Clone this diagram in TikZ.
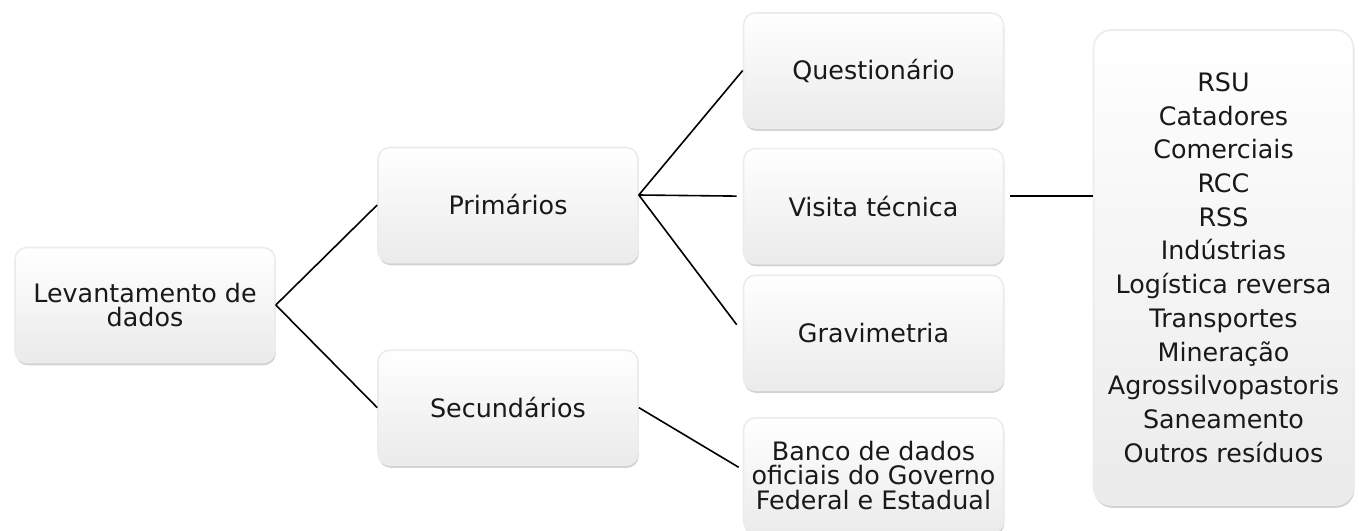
\documentclass[tikz,border=0pt]{standalone}
\usepackage{fontspec}
\setmainfont{DejaVu Sans}
\usetikzlibrary{positioning}
\usetikzlibrary{shadows}

\begin{document}
\begin{tikzpicture} [x=0.5pt, y=-0.5pt, line width=0.8pt,
        caixa/.style = {rounded corners=6pt, draw=gray!15, top color=white, bottom color=gray!16,
            drop shadow={shadow xshift=0.4pt, shadow yshift=-1.4pt, opacity=0.35, fill=gray},
            minimum width=130pt, minimum height=57.5pt, inner sep=2pt, align=center,
            text=black!90, font=\fontsize{12.7}{12.3}\selectfont}]
        \useasboundingbox (0,0) rectangle (1359,530);

        %Caixas
        \node[caixa] (lev) at (145,305) {Levantamento de\\dados};
        \node[caixa] (prim) at (508,205) {Primários};
        \node[caixa] (sec) [below = 43pt of prim] {Secundários};

        \node[caixa] (quest) at (873.5,70.5) {Questionário};
        \node[caixa] (vis) [below = 9.5pt of quest] {Visita técnica};
        \node[caixa] (grav) [below = 5pt of vis] {Gravimetria};
        \node[caixa] (banco) [below = 13pt of grav] {Banco de dados\\oficiais do Governo\\Federal e Estadual};

        \node[caixa, rounded corners=9pt, minimum height=237.5pt, font=\fontsize{12.7}{16.85}\selectfont] (tipos) at (1223.5,267.5)
            {RSU\\Catadores\\Comerciais\\RCC\\RSS\\Indústrias\\Logística reversa\\Transportes\\Mineração\\Agrossilvopastoris\\Saneamento\\Outros resíduos};

        %Linhas
        \draw (lev.east) -- (prim.west);
        \draw (lev.east) -- (sec.west);

        \draw ([yshift=5pt]prim.east) -- (quest.west);
        \draw ([yshift=5pt]prim.east) -- ([xshift=-3pt, yshift=5pt]vis.west);
        \draw ([yshift=5pt]prim.east) -- ([xshift=-3pt, yshift=4pt]grav.west);

        \draw (sec.east) -- ([xshift=-2pt, yshift=4pt]banco.west);

        \draw ([xshift=3pt, yshift=5pt]vis.east) -- ([yshift=5pt]vis.east -| tipos.west);

    \end{tikzpicture}
\end{document}
